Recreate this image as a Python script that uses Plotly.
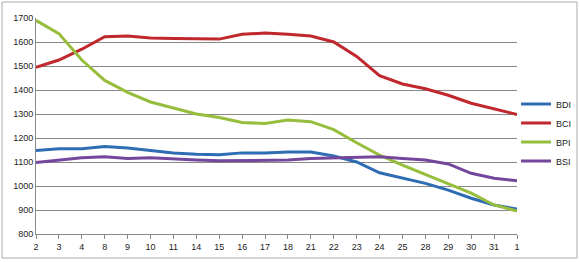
import plotly.graph_objects as go

categories = ["2", "3", "4", "8", "9", "10", "11", "14", "15", "16", "17", "18",
              "21", "22", "23", "24", "25", "28", "29", "30", "31", "1"]

bdi = [1148, 1155, 1155, 1165, 1158, 1148, 1138, 1132, 1130, 1138, 1138, 1142,
       1142, 1125, 1100, 1055, 1032, 1011, 983, 949, 921, 904]
bci = [1495, 1525, 1570, 1622, 1625, 1617, 1615, 1612, 1612, 1632, 1637, 1632,
       1625, 1600, 1540, 1460, 1425, 1405, 1378, 1345, 1320, 1298]
bpi = [1690, 1635, 1525, 1440, 1390, 1350, 1325, 1300, 1285, 1265, 1260, 1275,
       1268, 1235, 1180, 1129, 1087, 1049, 1011, 970, 921, 896]
bsi = [1098, 1108, 1118, 1122, 1115, 1118, 1112, 1108, 1105, 1105, 1105, 1108,
       1115, 1118, 1120, 1122, 1115, 1108, 1092, 1053, 1032, 1022]

series = [("BDI", bdi, "#2e6db4"), ("BCI", bci, "#c0282d"),
          ("BPI", bpi, "#96be3c"), ("BSI", bsi, "#74479c")]

fig = go.Figure()
for name, vals, col in series:
    fig.add_trace(go.Scatter(x=categories, y=vals, name=name, mode="lines",
                             line=dict(color=col, width=3)))

fig.update_layout(
    width=580, height=262,
    margin=dict(l=36, r=63, t=18, b=28, autoexpand=False),
    paper_bgcolor="white", plot_bgcolor="white",
    font=dict(family="Liberation Sans, Arial, sans-serif", size=9, color="#222"),
    showlegend=True,
    legend=dict(x=0.998, xanchor="left", y=0.669, yanchor="top",
                font=dict(size=9, color="#222"), bgcolor="rgba(0,0,0,0)",
                itemwidth=30, tracegroupgap=0),
    xaxis=dict(type="category", range=[0, 21], showgrid=False,
               showline=True, linecolor="#888", linewidth=1,
               ticks="outside", ticklen=4, tickcolor="#888",
               tickfont=dict(size=9, color="#222")),
    yaxis=dict(range=[800, 1700], dtick=100, showgrid=True, gridcolor="#888",
               gridwidth=1, showline=True, linecolor="#888", linewidth=1,
               ticks="", zeroline=False, tickfont=dict(size=9, color="#222")),
)

fig.add_shape(type="rect", xref="paper", yref="paper",
              x0=(2 - 36) / 481, x1=(577 - 36) / 481,
              y0=(234 - 258) / 216, y1=(234 - 2) / 216,
              line=dict(color="#aaa", width=1), fillcolor="rgba(0,0,0,0)")

fig.write_html("out.html")
